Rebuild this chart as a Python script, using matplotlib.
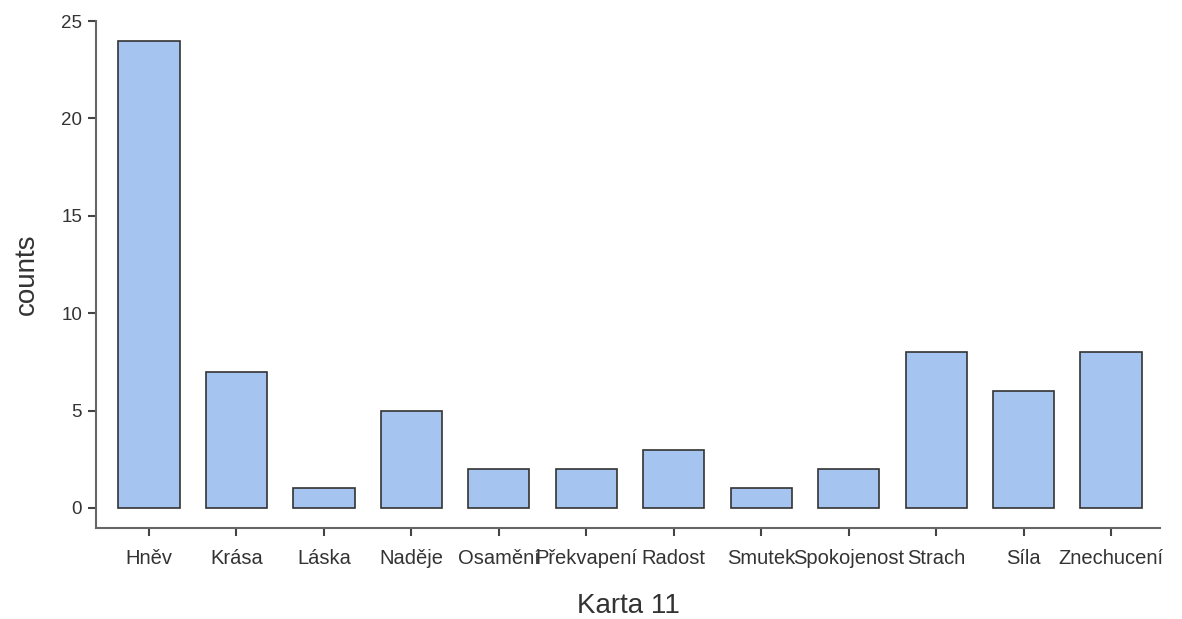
import matplotlib
matplotlib.use('Agg')
import matplotlib.pyplot as plt
import numpy as np

categories = ['Hněv', 'Krása', 'Láska', 'Naděje', 'Osamění', 'Překvapení', 'Radost',
              'Smutek', 'Spokojenost', 'Strach', 'Síla', 'Znechucení']
counts = [24, 7, 1, 5, 2, 2, 3, 1, 2, 8, 6, 8]

plt.rcParams['font.family'] = ['Liberation Sans', 'DejaVu Sans']

fig = plt.figure(figsize=(11.82, 6.19), dpi=100)
ax = fig.add_axes([0.0812, 0.147, 0.9002, 0.819])

x = np.arange(len(categories))
ax.bar(x, counts, width=0.7, color='#a6c4f0', edgecolor='#333333', linewidth=1.2)

ax.set_xlim(-0.606, 11.56)
ax.set_ylim(-1.03, 25)
ax.set_yticks([0, 5, 10, 15, 20, 25])
ax.set_xticks(x)
ax.set_xticklabels(categories)

for s in ['top', 'right']:
    ax.spines[s].set_visible(False)
for s in ['left', 'bottom']:
    ax.spines[s].set_color('#666666')
    ax.spines[s].set_linewidth(1.5)

ax.tick_params(axis='both', colors='#444444', width=1.5, length=6, labelcolor='#333333')
ax.tick_params(axis='x', pad=9, labelsize=14.5)
ax.tick_params(axis='y', pad=4, labelsize=13.5)

ax.set_xlabel('Karta 11', fontsize=20, color='#333333', labelpad=18)
ax.set_ylabel('counts', fontsize=20, color='#333333', labelpad=15)

fig.savefig('out.png', dpi=100)
